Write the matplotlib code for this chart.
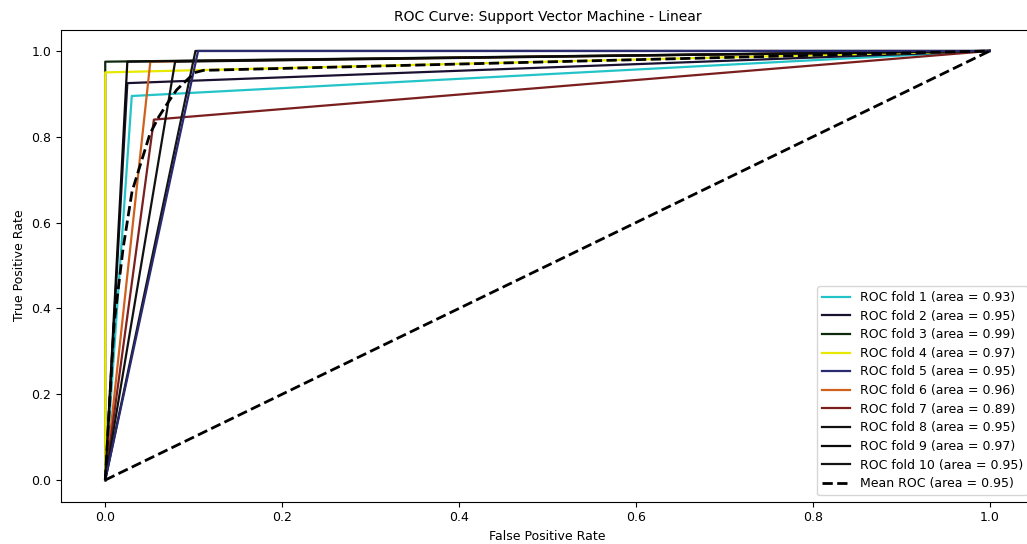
import numpy as np
import matplotlib
matplotlib.use('Agg')
import matplotlib.pyplot as plt

# data per fold: (0,0) -> (fpr, tpr) -> (1,1)
fold_fpr = [0.03, 0.025, 0.0, 0.0, 0.105, 0.051, 0.055, 0.079, 0.025, 0.102]
fold_tpr = [0.895, 0.925, 0.975, 0.95, 1.0, 0.975, 0.84, 0.975, 0.975, 1.0]
fold_auc = [0.93, 0.95, 0.99, 0.97, 0.95, 0.96, 0.89, 0.95, 0.97, 0.95]
mean_auc = 0.95
warna = ['#22c4c8', '#1a1030', '#0d2a0d', '#e8e800', '#2a2a70',
         '#d0601e', '#7a1e1e', '#111111', '#0a0a0a', '#141414']

W, H = 1027, 544
fig = plt.figure(figsize=(W / 100, H / 100), dpi=100)
ax = fig.add_axes([61 / W, (H - 501.5) / H, (1034 - 61) / W, (501.5 - 29.5) / H])

mean_fpr = np.linspace(0, 1, 100)
tprs = []
for i in range(len(fold_fpr)):
    fpr = [0.0, fold_fpr[i], 1.0]
    tpr = [0.0, fold_tpr[i], 1.0]
    z = 3 if i == 4 else 2  # garis navy di atas
    ax.plot(fpr, tpr, lw=1.6, color=warna[i], zorder=z,
            label='ROC fold %d (area = %0.2f)' % (i + 1, fold_auc[i]))
    t = np.interp(mean_fpr, fpr, tpr)
    t[0] = 0.0
    tprs.append(t)

ax.plot([0, 1], [0, 1], linestyle='--', lw=2, color='k', zorder=4)

mean_tpr = np.mean(tprs, axis=0)
mean_tpr[-1] = 1.0
ax.plot(mean_fpr, mean_tpr, color='k', linestyle='--', lw=2, zorder=4,
        label='Mean ROC (area = %0.2f)' % mean_auc)

ax.set_xlim(-0.05, 1.05)
ax.set_ylim(-0.05, 1.05)
ax.set_xticks([0, 0.2, 0.4, 0.6, 0.8, 1.0])
ax.set_yticks([0, 0.2, 0.4, 0.6, 0.8, 1.0])
ax.tick_params(labelsize=9)
ax.set_xlabel('False Positive Rate', fontsize=9)
ax.set_ylabel('True Positive Rate', fontsize=9)
ax.set_title('ROC Curve: Support Vector Machine - Linear', fontsize=10)
ax.legend(loc='lower right', fontsize=9, handlelength=2.2, labelspacing=0.45)

plt.savefig('out.png', dpi=100)
